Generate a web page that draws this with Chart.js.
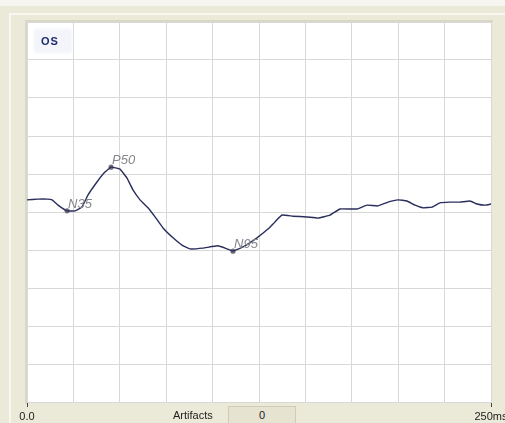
<!DOCTYPE html>
<html>
<head>
<meta charset="utf-8">
<script src="https://cdn.jsdelivr.net/npm/chart.js@4"></script>
<style>
  html, body { margin: 0; padding: 0; }
  body { width: 505px; height: 423px; background: #ebe9d7; position: relative; overflow: hidden;
         font-family: "Liberation Sans", Arial, sans-serif; }
  #topStrip { position: absolute; left: 0; top: 0; width: 505px; height: 6px; background: #f6f5ef; }
  #frame { position: absolute; left: 9px; top: 13px; right: 0; bottom: 0;
           border-left: 2px solid #f7f6f0; border-top: 2px solid #f7f6f0; }
  #inner { position: absolute; left: 25px; top: 20px; width: 468px; height: 384px;
           border-left: 2px solid #d9d7c6; border-top: 2px solid #d9d7c6; box-sizing: border-box; }
  canvas#c { position: absolute; left: 0; top: 0; }
  #eye { position: absolute; left: 35px; top: 30px; width: 36px; height: 22px; background: #f3f5fa;
         color: #1d2b70; font: bold 11px "Liberation Sans", Arial, sans-serif; letter-spacing: 1px;
         line-height: 22px; text-indent: 6px; box-shadow: 0 0 3px 1px #f3f5fa; }
  #artLabel { position: absolute; left: 173px; top: 409px; font-size: 11px; color: #222; }
  #artBox { position: absolute; left: 228px; top: 406px; width: 68px; height: 17px; box-sizing: border-box;
            background: #e6e3d1; border: 1px solid #cfccba; border-bottom: none;
            font-size: 11px; color: #222222; text-align: center; line-height: 16px; }
</style>
</head>
<body>
<div id="topStrip"></div>
<div id="frame"></div>
<div id="inner"></div>
<canvas id="c" width="505" height="423"></canvas>
<div id="eye">OS</div>
<div id="artLabel">Artifacts</div>
<div id="artBox">0</div>
<script>
// Pattern VEP trace, left eye (ms vs. amplitude in grid divisions)
const times = [0, 5.9, 10.8, 13.5, 16.7, 21.6, 25.9, 29.6, 32.9, 37.7, 42.0, 45.3, 50.1, 53.9,
  57.1, 60.9, 65.2, 69.0, 73.3, 78.7, 83.5, 87.8, 94.8, 102.9, 107.8, 111.0, 116.4, 123.9,
  129.8, 133.6, 137.4, 143.3, 150.9, 156.8, 163.3, 168.6, 174.0, 177.8, 183.2, 189.1, 194.5,
  199.9, 204.7, 209.1, 213.4, 218.2, 222.5, 227.9, 233.3, 238.7, 242.5, 246.8, 250];
const amplitudes = [0.32, 0.34, 0.34, 0.32, 0.18, 0.03, 0.03, 0.13, 0.45, 0.79, 1.05, 1.18, 1.13, 0.89,
  0.58, 0.32, 0.11, -0.13, -0.42, -0.68, -0.87, -0.97, -0.95, -0.89, -0.97, -1.03, -0.92, -0.68,
  -0.45, -0.26, -0.08, -0.11, -0.13, -0.16, -0.08, 0.08, 0.08, 0.08, 0.18, 0.16, 0.26,
  0.32, 0.29, 0.18, 0.11, 0.13, 0.24, 0.26, 0.26, 0.29, 0.21, 0.18, 0.21];

// Marked components
const peakNames = ['N35', 'P50', 'N95'];
const peakTimes = [21.6, 45.3, 111.0];
const peakValues = [0.03, 1.18, -1.03];

// x-axis tick labels (only the ends are labelled)
const xStart = 0, xEnd = 250;
const xTickLabels = { 0: '0.0', 250: '250ms' };

const gridColor = '#d8d8d8';

const plotBackground = {
  id: 'plotBackground',
  beforeDraw(chart) {
    const { ctx, chartArea: a } = chart;
    ctx.save();
    ctx.fillStyle = '#ffffff';
    ctx.fillRect(a.left, a.top, a.right - a.left, a.bottom - a.top);
    ctx.restore();
  }
};

const peakLabels = {
  id: 'peakLabels',
  afterDatasetsDraw(chart) {
    const meta = chart.getDatasetMeta(1);
    const ctx = chart.ctx;
    ctx.save();
    ctx.font = 'italic 13px "Liberation Sans", Arial, sans-serif';
    ctx.fillStyle = '#85868c';
    ctx.textAlign = 'left';
    ctx.textBaseline = 'alphabetic';
    meta.data.forEach((pt, i) => {
      ctx.fillText(peakNames[i], pt.x + 1, pt.y - 3);
    });
    ctx.restore();
  }
};

new Chart(document.getElementById('c'), {
  type: 'line',
  data: {
    datasets: [
      {
        data: times.map((t, i) => ({ x: t, y: amplitudes[i] })),
        borderColor: '#2a2e5c',
        borderWidth: 1.4,
        pointRadius: 0,
        tension: 0.1,
        fill: false
      },
      {
        data: peakTimes.map((t, i) => ({ x: t, y: peakValues[i] })),
        showLine: false,
        pointRadius: 2.6,
        pointBackgroundColor: '#6f7079',
        pointBorderWidth: 0
      }
    ]
  },
  options: {
    responsive: false,
    animation: false,
    layout: { padding: { left: 27, right: 14, top: 22, bottom: 0 } },
    plugins: { legend: { display: false }, tooltip: { enabled: false } },
    scales: {
      x: {
        type: 'linear',
        min: xStart,
        max: xEnd,
        grid: {
          color: gridColor,
          lineWidth: 1,
          drawTicks: true,
          tickLength: 5,
          tickColor: c => (c.tick && (c.tick.value in xTickLabels)) ? '#444' : 'rgba(0,0,0,0)'
        },
        border: { color: gridColor },
        ticks: {
          stepSize: 25,
          autoSkip: false,
          maxRotation: 0,
          padding: 3,
          color: '#222',
          font: { family: '"Liberation Sans", Arial, sans-serif', size: 11 },
          callback: v => xTickLabels[v] || ''
        },
        afterFit: s => { s.height = 21; s.paddingLeft = 0; s.paddingRight = 0; }
      },
      y: {
        min: -5,
        max: 5,
        grid: { color: gridColor, drawTicks: false },
        border: { display: false },
        ticks: { display: false, stepSize: 1 }
      }
    }
  },
  plugins: [plotBackground, peakLabels]
});
</script>
</body>
</html>
